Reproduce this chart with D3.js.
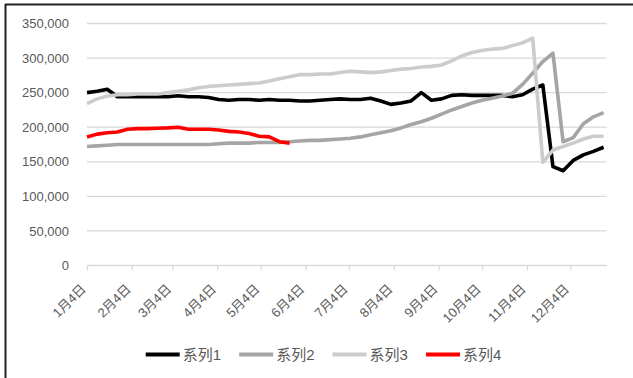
<!DOCTYPE html>
<html>
<head>
<meta charset="utf-8">
<script src="https://cdn.jsdelivr.net/npm/d3@7"></script>
<style>
  html, body { margin: 0; padding: 0; background: #fff; }
  svg { display: block; }
  text { font-family: "Liberation Sans", "Noto Sans CJK SC", sans-serif; fill: #595959; }
</style>
</head>
<body>
<svg id="chart" width="633" height="378"></svg>
<script>
// ---- data ----
const dates = [
  "2021-01-04","2021-01-11","2021-01-18","2021-01-25",
  "2021-02-01","2021-02-08","2021-02-15","2021-02-22",
  "2021-03-01","2021-03-08","2021-03-15","2021-03-22","2021-03-29",
  "2021-04-05","2021-04-12","2021-04-19","2021-04-26",
  "2021-05-03","2021-05-10","2021-05-17","2021-05-24","2021-05-31",
  "2021-06-07","2021-06-14","2021-06-21","2021-06-28",
  "2021-07-05","2021-07-12","2021-07-19","2021-07-26",
  "2021-08-02","2021-08-09","2021-08-16","2021-08-23","2021-08-30",
  "2021-09-06","2021-09-13","2021-09-20","2021-09-27",
  "2021-10-04","2021-10-11","2021-10-18","2021-10-25",
  "2021-11-01","2021-11-08","2021-11-15","2021-11-22","2021-11-29",
  "2021-12-06","2021-12-13","2021-12-20","2021-12-27"
];
const series1 = [250000,252000,255000,244000,244000,244000,244000,244000,244000,245500,244000,244000,
  243000,240000,239000,240000,240000,239000,240000,239000,239000,238000,238000,239000,240000,241000,
  240000,240000,242000,238000,233000,235000,238000,250000,239000,241000,246000,247000,246000,246000,
  246000,246000,244000,247000,255000,261000,143000,137000,152000,160000,165000,171000];
const series2 = [172000,173000,174000,175000,175000,175000,175000,175000,175000,175000,175000,175000,
  175000,176000,177000,177000,177000,178000,178000,178000,179000,180000,181000,181000,182000,183000,
  184000,186000,189000,192000,195000,199000,204000,208000,213000,219000,225000,230000,235000,239000,
  242000,245000,249000,262000,278000,295000,307000,179000,185000,205000,215000,221000];
const series3 = [234000,241000,245000,247000,247000,248000,248000,248000,250000,252000,254000,257000,
  259000,260000,261000,262000,263000,264000,267000,270000,273000,276000,276000,277000,277000,279000,
  281000,280000,279000,280000,282000,284000,285000,287000,288000,290000,296000,303000,308000,311000,
  313000,314000,318000,322000,329000,149000,167000,172000,177000,183000,187000,187000];
const series4 = [186000,190000,192000,193000,197000,198000,198000,198500,199000,200000,197000,197000,
  197000,196000,194000,193000,191000,187000,186000,179000,177000];
const seriesNames = ["系列1","系列2","系列3","系列4"];
const seriesColors = ["#000000","#a5a5a5","#cccccc","#ff0000"];
const tickDates = ["2021-01-04","2021-02-04","2021-03-04","2021-04-04","2021-05-04","2021-06-04",
  "2021-07-04","2021-08-04","2021-09-04","2021-10-04","2021-11-04","2021-12-04"];
const tickLabels = ["1月4日","2月4日","3月4日","4月4日","5月4日","6月4日",
  "7月4日","8月4日","9月4日","10月4日","11月4日","12月4日"];
const yTicks = [0,50000,100000,150000,200000,250000,300000,350000];
const axisEnd = "2021-12-29";

// ---- drawing ----
const parse = d3.utcParse("%Y-%m-%d");
const svg = d3.select("#chart");

// frame (left and top edges)
svg.append("line").attr("x1",5.5).attr("x2",5.5).attr("y1",4).attr("y2",378)
  .attr("stroke","#222").attr("stroke-width",2);
svg.append("line").attr("x1",5).attr("x2",633).attr("y1",4.5).attr("y2",4.5)
  .attr("stroke","#222").attr("stroke-width",2);

const x = d3.scaleUtc().domain([parse(dates[0]), parse(axisEnd)]).range([87, 606.5]);
const y = d3.scaleLinear().domain([0, 350000]).range([265.5, 23.5]);

// y axis labels
const yAxis = d3.axisLeft(y).tickValues(yTicks).tickSize(0).tickPadding(0)
  .tickFormat(d3.format(","));
const gy = svg.append("g").attr("transform","translate(69,0)").call(yAxis);
gy.select(".domain").remove();
gy.selectAll("text").attr("font-size", 13).attr("fill","#595959")
  .style("font-family",'"Liberation Sans", sans-serif');

// grid lines
svg.append("g").selectAll("line").data(yTicks.filter(d => d > 0)).join("line")
  .attr("x1", 87).attr("x2", 606.5)
  .attr("y1", d => y(d)).attr("y2", d => y(d))
  .attr("stroke","#d9d9d9").attr("stroke-width",1.3);

// x axis
const xAxis = d3.axisBottom(x).tickValues(tickDates.map(parse)).tickSize(5)
  .tickFormat((d,i) => tickLabels[i]);
const gx = svg.append("g").attr("transform",`translate(0,${y(0)})`).call(xAxis);
gx.select(".domain").attr("stroke","#d9d9d9").attr("stroke-width",1.3)
  .attr("d", `M87,0H606.5`);
gx.selectAll(".tick line").attr("stroke","#d9d9d9").attr("stroke-width",1.3);
gx.selectAll(".tick text")
  .attr("font-size", 13).attr("fill","#595959")
  .attr("text-anchor","end")
  .attr("y", 0).attr("dy","0.35em")
  .attr("transform","translate(-4,21) rotate(-45)");

// lines
const allSeries = [series1, series2, series3, series4];
const line = d3.line().x((d,i) => x(parse(dates[i]))).y(d => y(d));
svg.append("g").selectAll("path").data(allSeries).join("path")
  .attr("d", d => line(d))
  .attr("fill","none")
  .attr("stroke",(d,i) => seriesColors[i])
  .attr("stroke-width",3.6)
  .attr("stroke-linejoin","round");

// legend
const lx = d3.scalePoint().domain(seriesNames).range([145.7, 426]);
const lg = svg.append("g").selectAll("g").data(seriesNames).join("g")
  .attr("transform", d => `translate(${lx(d)},354.5)`);
lg.append("line").attr("x1",0).attr("x2",34).attr("y1",0).attr("y2",0)
  .attr("stroke",(d,i) => seriesColors[i]).attr("stroke-width",4);
lg.append("text").attr("x",37).attr("dy","0.35em")
  .attr("font-size",15).attr("fill","#595959").text(d => d);
</script>
</body>
</html>
